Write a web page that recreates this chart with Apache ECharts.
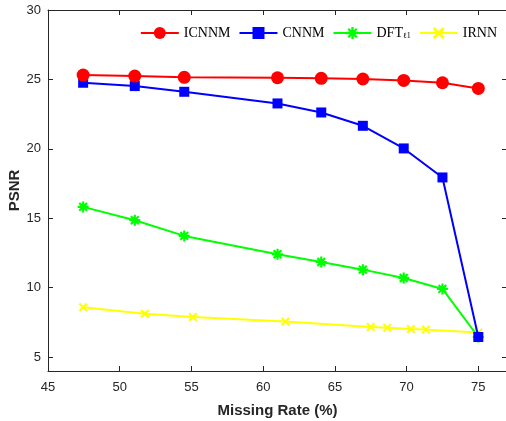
<!DOCTYPE html>
<html>
<head>
<meta charset="utf-8">
<script src="https://cdn.jsdelivr.net/npm/echarts@6/dist/echarts.min.js"></script>
<style>html,body{margin:0;padding:0;background:#fff}#c{width:506px;height:421px}</style>
</head>
<body>
<div id="c"></div>
<script>
// ---- data ----
const seriesNames = ['ICNNM', 'CNNM', 'DFT', 'IRNN'];
const xMain = [47.45, 51.05, 54.5, 61.0, 64.05, 66.95, 69.8, 72.5, 75.0];
const icnnm = [25.31, 25.24, 25.15, 25.12, 25.08, 25.03, 24.93, 24.76, 24.35];
const cnnm = [24.76, 24.52, 24.11, 23.27, 22.62, 21.66, 20.03, 17.94, 6.45];
const dft = [15.82, 14.86, 13.73, 12.41, 11.85, 11.30, 10.70, 9.91, 6.45];
const xIrnn = [47.45, 51.75, 55.1, 61.55, 67.5, 68.65, 70.3, 71.35, 75.0];
const irnn = [8.59, 8.13, 7.89, 7.56, 7.17, 7.12, 7.02, 6.98, 6.78];
const xTicks = [45, 50, 55, 60, 65, 70, 75];
const yTicks = [5, 10, 15, 20, 25, 30];

const asterisk = 'path://M-5,-1L5,-1L5,1L-5,1Z M-1,-5L1,-5L1,5L-1,5Z M-4.24,-2.83L-2.83,-4.24L4.24,2.83L2.83,4.24Z M2.83,-4.24L4.24,-2.83L-2.83,4.24L-4.24,2.83Z';
const cross = 'path://M-4.24,-2.83L-2.83,-4.24L4.24,2.83L2.83,4.24Z M2.83,-4.24L4.24,-2.83L-2.83,4.24L-4.24,2.83Z';

const zip = (xs, ys) => xs.map((x, i) => [x, ys[i]]);
const axisColor = '#262626';

const chart = echarts.init(document.getElementById('c'), null, {renderer: 'canvas'});
const baseX = {
  type: 'value', min: 45, max: 77,
  axisLine: {show: true, lineStyle: {color: axisColor, width: 1}},
  axisTick: {show: true, inside: true, length: 5, customValues: xTicks, lineStyle: {color: axisColor}},
  splitLine: {show: false}
};
const baseY = {
  type: 'value', min: 4, max: 30,
  axisLine: {show: true, lineStyle: {color: axisColor, width: 1}},
  axisTick: {show: true, inside: true, length: 5, customValues: yTicks, lineStyle: {color: axisColor}},
  splitLine: {show: false}
};
chart.setOption({
  animation: false,
  backgroundColor: '#fff',
  grid: {left: 48, top: 10, width: 459, height: 361, containLabel: false, outerBoundsMode: 'none'},
  legend: {
    top: 21, right: 4, itemWidth: 38, itemHeight: 15, itemGap: 8,
    textStyle: {fontFamily: 'Liberation Serif', fontSize: 14, color: '#000',
      rich: {s: {fontFamily: 'Liberation Serif', fontSize: 8, color: '#000', verticalAlign: 'bottom', padding: [6, 0, 0, 0]}}},
    formatter: n => n === 'DFT' ? 'DFT{s|ℓ1}' : n,
    data: seriesNames
  },
  xAxis: [
    Object.assign({}, baseX, {
      position: 'bottom',
      axisLabel: {show: true, customValues: xTicks, color: axisColor, fontFamily: 'Liberation Sans', fontSize: 13, margin: 10},
      name: 'Missing Rate (%)', nameLocation: 'middle', nameGap: 32, nameMoveOverlap: false,
      nameTextStyle: {fontFamily: 'Liberation Sans', fontSize: 15, fontWeight: 'bold', color: axisColor}
    }),
    Object.assign({}, baseX, {position: 'top', axisLabel: {show: false}})
  ],
  yAxis: [
    Object.assign({}, baseY, {
      position: 'left',
      axisLabel: {show: true, customValues: yTicks, color: axisColor, fontFamily: 'Liberation Sans', fontSize: 13, margin: 7},
      name: 'PSNR', nameLocation: 'middle', nameGap: 26, nameMoveOverlap: false,
      nameTextStyle: {fontFamily: 'Liberation Sans', fontSize: 15, fontWeight: 'bold', color: axisColor}
    }),
    Object.assign({}, baseY, {position: 'right', axisLabel: {show: false}})
  ],
  series: [
    {name: 'ICNNM', type: 'line', data: zip(xMain, icnnm), color: '#ff0000',
      symbol: 'circle', symbolSize: 13, lineStyle: {width: 2}, z: 5},
    {name: 'CNNM', type: 'line', data: zip(xMain, cnnm), color: '#0000ff',
      symbol: 'rect', symbolSize: 10, lineStyle: {width: 2}, z: 4},
    {name: 'DFT', type: 'line', data: zip(xMain, dft), color: '#00ff00',
      symbol: asterisk, symbolSize: 11, lineStyle: {width: 2}, z: 3},
    {name: 'IRNN', type: 'line', data: zip(xIrnn, irnn), color: '#ffff00',
      symbol: cross, symbolSize: 9, lineStyle: {width: 2}, z: 2}
  ]
});
</script>
</body>
</html>
